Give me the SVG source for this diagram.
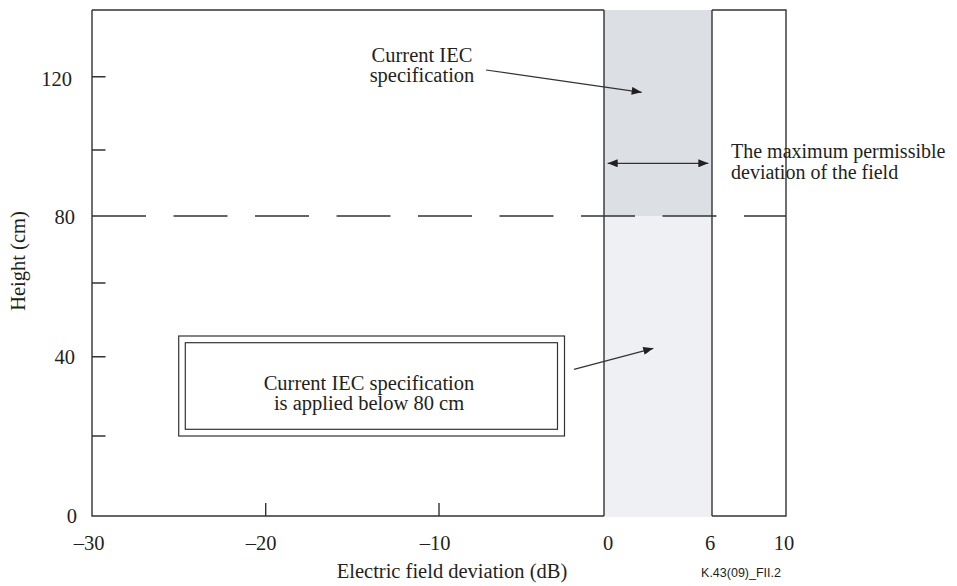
<svg xmlns="http://www.w3.org/2000/svg" width="957" height="586" viewBox="0 0 957 586">
<defs>
<style>
.t{font-family:"Liberation Serif","Times New Roman",serif;font-size:20.5px;fill:#231f20}
.m{text-anchor:middle}
.e{text-anchor:end}
.ln{stroke:#333;stroke-width:1.4;fill:none}
.thin{stroke:#333;stroke-width:1.2;fill:none}
</style>
<marker id="ah" viewBox="0 0 10 8" refX="10" refY="4" markerWidth="11" markerHeight="8" markerUnits="userSpaceOnUse" orient="auto-start-reverse">
<path d="M0,0 L10,4 L0,8 Z" fill="#231f20"/>
</marker>
</defs>
<rect width="957" height="586" fill="#fff"/>
<g id="band">
<rect x="604" y="10" width="108" height="206" fill="#dcdfe4"/>
<rect x="604" y="216" width="108" height="301" fill="#eff0f4"/>
</g>
<g id="axes">
<path class="ln" d="M92,10 V516 H604 M712,516 H786 V10 H712 M604,10 H92"/>
<path class="ln" d="M604,10 V516 M712,10 V516"/>
<path class="ln" d="M92,76.7 H105.5 M92,150 H105.5 M92,283 H105.5 M92,356.7 H105.5 M92,436 H105.5"/>
<path class="ln" d="M265.7,516 V503 M439,516 V503"/>
<path class="ln" d="M92,216 H786" stroke-dasharray="54 27.5"/>
</g>
<g id="ylabels">
<text class="t e" x="72" y="85.5">120</text>
<text class="t e" x="75" y="223.5">80</text>
<text class="t e" x="75" y="364">40</text>
<text class="t e" x="77" y="523">0</text>
<text class="t m" transform="translate(25,261) rotate(-90)">Height (cm)</text>
</g>
<g id="xlabels">
<text class="t m" x="89" y="550">–30</text>
<text class="t m" x="261" y="550">–20</text>
<text class="t m" x="435" y="550">–10</text>
<text class="t m" x="608" y="550">0</text>
<text class="t m" x="710" y="550">6</text>
<text class="t m" x="784" y="550">10</text>
<text class="t m" x="452" y="578">Electric field deviation (dB)</text>
<text x="741" y="577" text-anchor="middle" style="font-family:'Liberation Sans',Arial,sans-serif;font-size:12.5px;fill:#231f20">K.43(09)_FII.2</text>
</g>
<g id="node-upper-label">
<text class="t m" x="422" y="62">Current IEC</text>
<text class="t m" x="422" y="82">specification</text>
</g>
<g id="node-deviation-label">
<text class="t" x="731" y="158" style="font-size:20px">The maximum permissible</text>
<text class="t" x="731" y="179" style="font-size:20px">deviation of the field</text>
</g>
<g id="node-box">
<rect class="thin" x="178.7" y="336" width="385.8" height="100"/>
<rect class="thin" x="185.3" y="342.7" width="372.2" height="86.6"/>
<text class="t m" x="369" y="390">Current IEC specification</text>
<text class="t m" x="369" y="410">is applied below 80 cm</text>
</g>
<g id="connectors">
<line class="thin" x1="486" y1="70" x2="641.7" y2="92.3" marker-end="url(#ah)"/>
<line class="thin" x1="574" y1="369.3" x2="653.3" y2="348.3" marker-end="url(#ah)"/>
<line class="thin" x1="607.7" y1="163.3" x2="708.3" y2="163.3" marker-start="url(#ah)" marker-end="url(#ah)"/>
</g>
</svg>
